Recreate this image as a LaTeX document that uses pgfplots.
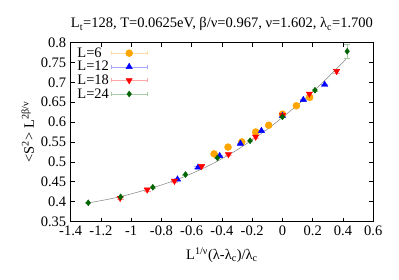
\documentclass[border=0pt]{standalone}
\usepackage{fontspec}
\setmainfont{Liberation Serif}
\usepackage{pgfplots}
\pgfplotsset{compat=1.18}
\definecolor{gorange}{RGB}{255,165,0}
\definecolor{gblue}{RGB}{0,0,255}
\definecolor{gred}{RGB}{255,0,0}
\definecolor{ggreen}{RGB}{0,100,0}
\pgfplotsset{ebleg/.style={legend image code/.code={%
  \draw[#1,line width=0.5pt,mark=none] (0pt,0pt)--(36pt,0pt) (0pt,-2pt)--(0pt,2pt) (36pt,-2pt)--(36pt,2pt);
  \draw plot coordinates {(18pt,0pt)};}}}
\begin{document}
\begin{tikzpicture}
\begin{axis}[
  scale only axis, width=302.5pt, height=179pt,
  xmin=-1.4, xmax=0.6, ymin=0.35, ymax=0.8,
  xtick={-1.4,-1.2,...,0.61}, ytick={0.35,0.4,...,0.81},
  tick align=inside, tick pos=both,
  major tick length=4pt,
  axis line style={line width=0.8pt, black},
  tick style={black, line width=0.5pt},
  font=\fontsize{14.5pt}{16pt}\selectfont,
  /pgf/number format/assume math mode=true,
  /pgf/number format/.cd, fixed, precision=2,
  /pgfplots/.cd,
  xticklabel style={yshift=-1pt},
  yticklabel style={xshift=-1pt},
  title={L\textsubscript{t}=128, T=0.0625eV, β/ν=0.967, ν=1.602, λ\textsubscript{c}=1.700},
  title style={yshift=2pt},
  xlabel={L\textsuperscript{1/ν}(λ-λ\textsubscript{c})/λ\textsubscript{c}},
  xlabel style={yshift=-5pt},
  ylabel={<S\textsuperscript{2}> L\textsuperscript{2β/ν}},
  legend style={at={(0.005,0.995)}, anchor=north west, draw=none, fill=none,
    row sep=-1.5pt, font=\fontsize{14.5pt}{16pt}\selectfont},
  legend cell align=left,
  legend plot pos=right,
  error bars/y dir=both, error bars/y explicit,
]
\addplot[gray, line width=0.5pt, smooth, forget plot] coordinates {
(-1.28,0.397) (-1.1,0.410) (-0.9,0.430) (-0.7,0.455) (-0.5,0.488) (-0.3,0.530)
(-0.1,0.582) (0.0,0.612) (0.1,0.643) (0.2,0.676) (0.3,0.712) (0.43,0.762)};
\addplot[only marks, gorange, mark=*, mark size=3.5pt, mark options={draw=gorange, fill=gorange},
  error bars/error bar style={gorange!35}, ebleg={gorange!35}] coordinates {
(-0.452,0.520) +- (0,0.002) (-0.360,0.537) +- (0,0.002) (-0.269,0.550) +- (0,0.002)
(-0.177,0.575) +- (0,0.002) (-0.091,0.592) +- (0,0.002) (0.000,0.620) +- (0,0.002)
(0.092,0.641) +- (0,0.002) (0.180,0.662) +- (0,0.002)};
\addlegendentry{L=6}
\addplot[only marks, gblue, mark=triangle*, mark size=3.6pt, mark options={draw=gblue, fill=gblue},
  error bars/error bar style={gblue!35}, ebleg={gblue!35}] coordinates {
(-0.694,0.456) +- (0,0.002) (-0.558,0.486) +- (0,0.002) (-0.415,0.515) +- (0,0.002)
(-0.278,0.546) +- (0,0.002) (-0.139,0.578) +- (0,0.002) (0.000,0.616) +- (0,0.002)
(0.138,0.656) +- (0,0.002) (0.279,0.694) +- (0,0.002)};
\addlegendentry{L=12}
\addplot[only marks, gred, mark=triangle*, mark size=3.6pt, mark options={draw=gred, fill=gred, rotate=180},
  error bars/error bar style={gred!35}, ebleg={gred!35}] coordinates {
(-1.073,0.409) +- (0,0.003) (-0.894,0.430) +- (0,0.003) (-0.714,0.452) +- (0,0.003)
(-0.535,0.489) +- (0,0.003) (-0.357,0.519) +- (0,0.003) (-0.177,0.563) +- (0,0.003)
(0.000,0.617) +- (0,0.003) (0.178,0.671) +- (0,0.004) (0.358,0.728) +- (0,0.005)};
\addlegendentry{L=18}
\addplot[only marks, ggreen, mark=diamond*, mark size=3pt, mark options={draw=ggreen, fill=ggreen},
  error bars/error bar style={ggreen!35}, ebleg={ggreen!35}] coordinates {
(-1.284,0.397) +- (0,0.002) (-1.070,0.412) +- (0,0.002) (-0.857,0.436) +- (0,0.002)
(-0.641,0.468) +- (0,0.002) (-0.430,0.510) +- (0,0.002) (-0.214,0.553) +- (0,0.002)
(0.000,0.613) +- (0,0.002) (0.215,0.680) +- (0,0.003) (0.428,0.778) +- (0,0.018)};
\addlegendentry{L=24}
\end{axis}
\pgfresetboundingbox
\path (current axis.south west) ++(-70.7pt,-57.5pt) rectangle ++(399pt,279pt);
\end{tikzpicture}
\end{document}
